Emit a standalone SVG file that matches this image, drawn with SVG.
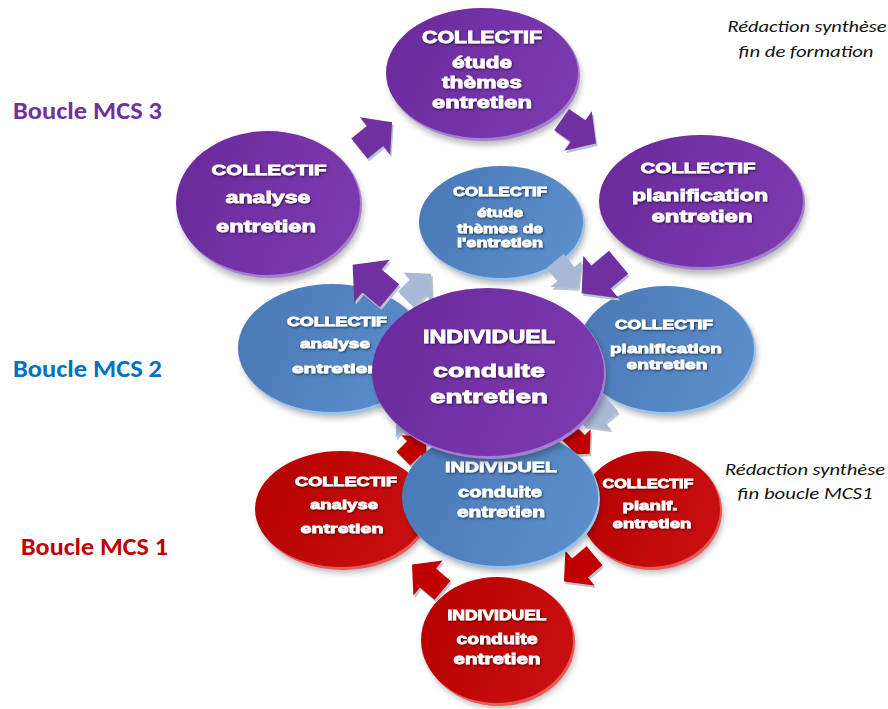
<svg xmlns="http://www.w3.org/2000/svg" xmlns:xlink="http://www.w3.org/1999/xlink" width="888" height="709" viewBox="0 0 888 709">
<style>
.t{font-family:"Liberation Sans",Arial,sans-serif;font-weight:bold;fill:#fff;stroke:#fff;stroke-width:0.8;text-anchor:middle}
.lbl{font-family:Carlito,Lato,"Open Sans",sans-serif;font-weight:bold}
.it{font-family:Carlito,Lato,"Open Sans",sans-serif;font-style:italic;font-size:17px;fill:#111;text-anchor:middle}
.sh{fill:#000;opacity:0.28}
.p{fill:#7030a0}
.b{fill:#a8b9d5}
.r{fill:#c00000}
.edge{fill:#b9c3d3}
</style>
<defs>
<filter id="blur" x="-20%" y="-20%" width="140%" height="140%"><feGaussianBlur stdDeviation="3"/></filter>
<filter id="ts" x="-10%" y="-30%" width="120%" height="160%"><feDropShadow dx="1" dy="1.2" stdDeviation="0.8" flood-color="#000" flood-opacity="0.55"/></filter>
<linearGradient id="gp" x1="0" y1="0" x2="1" y2="0.3"><stop offset="0" stop-color="#69299a"/><stop offset="1" stop-color="#7b39ae"/></linearGradient>
<linearGradient id="gb" x1="0" y1="0" x2="1" y2="0.3"><stop offset="0" stop-color="#4877b4"/><stop offset="1" stop-color="#5a8dca"/></linearGradient>
<linearGradient id="gr" x1="0" y1="0" x2="1" y2="0.3"><stop offset="0" stop-color="#b50000"/><stop offset="1" stop-color="#c80f0f"/></linearGradient>
<polygon id="arr" points="-20,-13 0,-13 0,-24 22,0 0,24 0,13 -20,13"/>
</defs>
<rect width="888" height="709" fill="#fff"/>

<g id="labels">
<text class="lbl" x="13" y="119" font-size="24" fill="#7030a0" textLength="149" lengthAdjust="spacingAndGlyphs">Boucle MCS 3</text>
<text class="lbl" x="13" y="377" font-size="24" fill="#0070c0" textLength="149" lengthAdjust="spacingAndGlyphs">Boucle MCS 2</text>
<text class="lbl" x="21" y="555" font-size="24" fill="#c00000" textLength="147" lengthAdjust="spacingAndGlyphs">Boucle MCS 1</text>
<text class="it" x="807" y="32" textLength="159" lengthAdjust="spacingAndGlyphs">Rédaction synthèse</text>
<text class="it" x="806" y="57" textLength="135" lengthAdjust="spacingAndGlyphs">fin de formation</text>
<text class="it" x="805" y="475" textLength="160" lengthAdjust="spacingAndGlyphs">Rédaction synthèse</text>
<text class="it" x="805" y="499" textLength="135" lengthAdjust="spacingAndGlyphs">fin boucle MCS1</text>
</g>

<g id="n3-etude">
<ellipse class="sh" cx="485" cy="79" rx="96" ry="66" filter="url(#blur)"/>
<ellipse cx="484" cy="75" rx="96" ry="66" fill="#a47fd0"/>
<ellipse cx="482" cy="73" rx="96" ry="65" fill="url(#gp)"/>
<g filter="url(#ts)">
<text class="t" x="482" y="43" font-size="16.5" textLength="120" lengthAdjust="spacingAndGlyphs">COLLECTIF</text>
<text class="t" x="482" y="68" font-size="16.5" textLength="60" lengthAdjust="spacingAndGlyphs">étude</text>
<text class="t" x="482" y="88" font-size="16.5" textLength="80" lengthAdjust="spacingAndGlyphs">thèmes</text>
<text class="t" x="482" y="108" font-size="16.5" textLength="100" lengthAdjust="spacingAndGlyphs">entretien</text>
</g>
</g>

<g id="n3-analyse">
<ellipse class="sh" cx="271" cy="209" rx="92" ry="74" filter="url(#blur)"/>
<ellipse cx="270" cy="205" rx="92" ry="73" fill="#a47fd0"/>
<ellipse cx="268" cy="203" rx="92" ry="72" fill="url(#gp)"/>
<g filter="url(#ts)">
<text class="t" x="269" y="175" font-size="14.5" textLength="115" lengthAdjust="spacingAndGlyphs">COLLECTIF</text>
<text class="t" x="268" y="203" font-size="16" textLength="85" lengthAdjust="spacingAndGlyphs">analyse</text>
<text class="t" x="266" y="232" font-size="16" textLength="100" lengthAdjust="spacingAndGlyphs">entretien</text>
</g>
</g>

<g id="n3-planification">
<ellipse class="sh" cx="704" cy="207" rx="102" ry="68" filter="url(#blur)"/>
<ellipse cx="703" cy="203" rx="102" ry="67" fill="#a47fd0"/>
<ellipse cx="701" cy="201" rx="102" ry="66" fill="url(#gp)"/>
<g filter="url(#ts)">
<text class="t" x="698" y="173" font-size="15" textLength="115" lengthAdjust="spacingAndGlyphs">COLLECTIF</text>
<text class="t" x="700" y="201" font-size="16" textLength="136" lengthAdjust="spacingAndGlyphs">planification</text>
<text class="t" x="702" y="222" font-size="16" textLength="101" lengthAdjust="spacingAndGlyphs">entretien</text>
</g>
</g>

<g id="n2-etude">
<ellipse class="sh" cx="504" cy="227" rx="82" ry="57" filter="url(#blur)"/>
<ellipse cx="503" cy="224" rx="82" ry="57" fill="#9cc3ea"/>
<ellipse cx="501" cy="222" rx="82" ry="56" fill="url(#gb)"/>
<g filter="url(#ts)">
<text class="t" x="500" y="196" font-size="12" textLength="94" lengthAdjust="spacingAndGlyphs">COLLECTIF</text>
<text class="t" x="500" y="217" font-size="13" textLength="46" lengthAdjust="spacingAndGlyphs">étude</text>
<text class="t" x="500" y="233" font-size="13" textLength="86" lengthAdjust="spacingAndGlyphs">thèmes de</text>
<text class="t" x="500" y="247" font-size="13" textLength="86" lengthAdjust="spacingAndGlyphs">l'entretien</text>
</g>
</g>

<g id="n2-analyse">
<ellipse class="sh" cx="335" cy="353" rx="94" ry="65" filter="url(#blur)"/>
<ellipse cx="334" cy="350" rx="94" ry="65" fill="#9cc3ea"/>
<ellipse cx="332" cy="348" rx="94" ry="64" fill="url(#gb)"/>
<g filter="url(#ts)">
<text class="t" x="337" y="326" font-size="12.5" textLength="100" lengthAdjust="spacingAndGlyphs">COLLECTIF</text>
<text class="t" x="335" y="348" font-size="13" textLength="70" lengthAdjust="spacingAndGlyphs">analyse</text>
<text class="t" x="336" y="373" font-size="13" textLength="88" lengthAdjust="spacingAndGlyphs">entretien</text>
</g>
</g>

<g id="n2-planification">
<ellipse class="sh" cx="669" cy="354" rx="88" ry="64" filter="url(#blur)"/>
<ellipse cx="668" cy="351" rx="88" ry="64" fill="#9cc3ea"/>
<ellipse cx="666" cy="349" rx="88" ry="63" fill="url(#gb)"/>
<g filter="url(#ts)">
<text class="t" x="664" y="329" font-size="13" textLength="98" lengthAdjust="spacingAndGlyphs">COLLECTIF</text>
<text class="t" x="666" y="353" font-size="13.5" textLength="112" lengthAdjust="spacingAndGlyphs">planification</text>
<text class="t" x="667" y="369" font-size="13.5" textLength="81" lengthAdjust="spacingAndGlyphs">entretien</text>
</g>
</g>

<g id="n1-analyse">
<ellipse class="sh" cx="344" cy="514" rx="86" ry="59" filter="url(#blur)"/>
<ellipse cx="343" cy="511" rx="86" ry="59" fill="#e85a5a"/>
<ellipse cx="341" cy="509" rx="86" ry="58" fill="url(#gr)"/>
<g filter="url(#ts)">
<text class="t" x="346" y="486" font-size="13" textLength="102" lengthAdjust="spacingAndGlyphs">COLLECTIF</text>
<text class="t" x="344" y="509" font-size="13.5" textLength="68" lengthAdjust="spacingAndGlyphs">analyse</text>
<text class="t" x="342" y="533" font-size="13.5" textLength="83" lengthAdjust="spacingAndGlyphs">entretien</text>
</g>
</g>

<g id="n1-planif">
<ellipse class="sh" cx="653" cy="514" rx="70" ry="59" filter="url(#blur)"/>
<ellipse cx="652" cy="511" rx="70" ry="59" fill="#e85a5a"/>
<ellipse cx="650" cy="509" rx="70" ry="58" fill="url(#gr)"/>
<g filter="url(#ts)">
<text class="t" x="648" y="488" font-size="12.5" textLength="91" lengthAdjust="spacingAndGlyphs">COLLECTIF</text>
<text class="t" x="650" y="510" font-size="13" textLength="55" lengthAdjust="spacingAndGlyphs">planif.</text>
<text class="t" x="652" y="528" font-size="13" textLength="79" lengthAdjust="spacingAndGlyphs">entretien</text>
</g>
</g>

<g id="n1-individuel">
<ellipse class="sh" cx="500" cy="645" rx="76" ry="63" filter="url(#blur)"/>
<ellipse cx="499" cy="642" rx="76" ry="64" fill="#e85a5a"/>
<ellipse cx="497" cy="640" rx="76" ry="63" fill="url(#gr)"/>
<g filter="url(#ts)">
<text class="t" x="497" y="620" font-size="14.5" textLength="99" lengthAdjust="spacingAndGlyphs">INDIVIDUEL</text>
<text class="t" x="497" y="644" font-size="14.5" textLength="81" lengthAdjust="spacingAndGlyphs">conduite</text>
<text class="t" x="497" y="664" font-size="14.5" textLength="87" lengthAdjust="spacingAndGlyphs">entretien</text>
</g>
</g>

<g id="connectors">
<!-- MCS3 purple loop -->
<g transform="translate(375,136)"><use xlink:href="#arr" class="edge" transform="translate(1.5,2.5) rotate(-39)"/><use xlink:href="#arr" class="p" transform="rotate(-39)"/></g>
<g transform="translate(578,131)"><use xlink:href="#arr" class="edge" transform="translate(1.5,2.5) rotate(35)"/><use xlink:href="#arr" class="p" transform="rotate(35)"/></g>
<!-- MCS2 light blue loop -->
<g transform="translate(418,287)"><use xlink:href="#arr" class="edge" transform="translate(1.5,2.5) rotate(-45) scale(0.85)"/><use xlink:href="#arr" class="b" transform="rotate(-45) scale(0.85)"/></g>
<g transform="translate(566,274)"><use xlink:href="#arr" class="edge" transform="translate(1.5,2.5) rotate(50) scale(0.85)"/><use xlink:href="#arr" class="b" transform="rotate(50) scale(0.85)"/></g>
<g transform="translate(598,414)"><use xlink:href="#arr" class="edge" transform="translate(1.5,2.5) rotate(140) scale(0.85)"/><use xlink:href="#arr" class="b" transform="rotate(140) scale(0.85)"/></g>
<g transform="translate(410,423)"><use xlink:href="#arr" class="edge" transform="translate(1.5,2.5) rotate(-135) scale(0.85)"/><use xlink:href="#arr" class="b" transform="rotate(-135) scale(0.85)"/></g>
<!-- MCS3 purple arrows around central -->
<g transform="translate(372,281)"><use xlink:href="#arr" class="edge" transform="translate(1.5,2.5) rotate(-140) scale(1.15)"/><use xlink:href="#arr" class="p" transform="rotate(-140) scale(1.15)"/></g>
<g transform="translate(601,277)"><use xlink:href="#arr" class="edge" transform="translate(1.5,2.5) rotate(140) scale(1.15)"/><use xlink:href="#arr" class="p" transform="rotate(140) scale(1.15)"/></g>
<!-- MCS1 red loop -->
<g transform="translate(414,448)"><use xlink:href="#arr" class="edge" transform="translate(1.5,2.5) rotate(-45) scale(0.75)"/><use xlink:href="#arr" class="r" transform="rotate(-45) scale(0.75)"/></g>
<g transform="translate(578,442)"><use xlink:href="#arr" class="edge" transform="translate(1.5,2.5) rotate(45) scale(0.75)"/><use xlink:href="#arr" class="r" transform="rotate(45) scale(0.75)"/></g>
<g transform="translate(580,568)"><use xlink:href="#arr" class="edge" transform="translate(1.5,2.5) rotate(140) scale(0.95)"/><use xlink:href="#arr" class="r" transform="rotate(140) scale(0.95)"/></g>
<g transform="translate(428,578)"><use xlink:href="#arr" class="edge" transform="translate(1.5,2.5) rotate(-140) scale(0.95)"/><use xlink:href="#arr" class="r" transform="rotate(-140) scale(0.95)"/></g>
</g>

<g id="n2-individuel">
<ellipse class="sh" cx="503" cy="502" rx="98" ry="70" filter="url(#blur)"/>
<ellipse cx="502" cy="499" rx="98" ry="70" fill="#9cc3ea"/>
<ellipse cx="500" cy="497" rx="98" ry="69" fill="url(#gb)"/>
<g filter="url(#ts)">
<text class="t" x="501" y="472" font-size="15.5" textLength="112" lengthAdjust="spacingAndGlyphs">INDIVIDUEL</text>
<text class="t" x="500" y="497" font-size="15" textLength="84" lengthAdjust="spacingAndGlyphs">conduite</text>
<text class="t" x="501" y="517" font-size="15" textLength="88" lengthAdjust="spacingAndGlyphs">entretien</text>
</g>
</g>

<g id="n3-individuel">
<ellipse class="sh" cx="491" cy="378" rx="116" ry="85" filter="url(#blur)"/>
<ellipse cx="490" cy="374" rx="116" ry="85" fill="#a47fd0"/>
<ellipse cx="488" cy="372" rx="116" ry="84" fill="url(#gp)"/>
<g filter="url(#ts)">
<text class="t" x="489" y="343" font-size="18.5" textLength="132" lengthAdjust="spacingAndGlyphs">INDIVIDUEL</text>
<text class="t" x="489" y="377" font-size="19" textLength="112" lengthAdjust="spacingAndGlyphs">conduite</text>
<text class="t" x="489" y="403" font-size="19" textLength="118" lengthAdjust="spacingAndGlyphs">entretien</text>
</g>
</g>
</svg>
